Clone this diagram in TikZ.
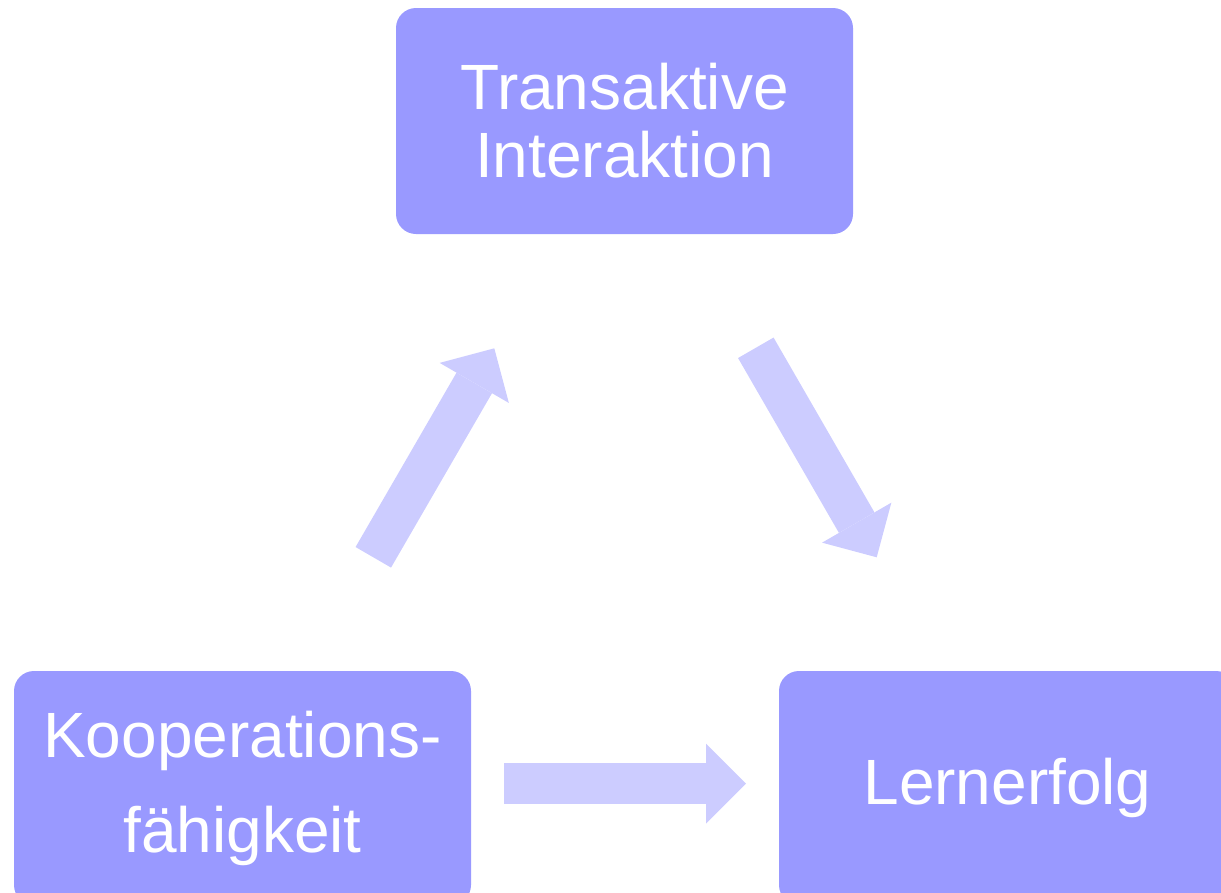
\documentclass[tikz,border=0pt]{standalone}
\usepackage{fontspec}
\setmainfont{Liberation Sans}
\usetikzlibrary{arrows.meta}
\definecolor{boxblue}{RGB}{153,153,255}
\definecolor{arrowblue}{RGB}{204,204,255}
\tikzset{
	stage/.style = 
    {
			rounded corners = 20pt,
			fill = boxblue,
			text = white,
			align = center,
			minimum width = 457pt,
			minimum height = 226pt,
			inner sep = 0pt
    },
	flow/.style = 
    {
			draw = arrowblue,
			line width = 41pt,
			-{Triangle[length=40pt, width=80pt, line width=0pt]}
    }
}
\begin{document}
\begin{tikzpicture}[x=1pt, y=-1pt]
    \useasboundingbox (0,0) rectangle (1221,892);
    \clip (0,0) rectangle (1221,892);
    % Nodes
    \node (interaktion) [stage, font=\fontsize{64}{68}\selectfont] at (624.5,121) {Transaktive\\Interaktion};
    \node (kooperation) [stage, minimum height=234pt, font=\fontsize{64}{95}\selectfont] at (242.5,788) {Kooperations-\\fähigkeit};
    \node (lernerfolg) [stage, minimum height=234pt, font=\fontsize{64}{68}\selectfont] at (1007.5,788) {Lernerfolg};

    % Arrow ends
    \coordinate (kiStart) at (373.3,557.3);
    \coordinate (kiEnd) at (494.3,348.3);
    \coordinate (ilStart) at (755.8,347.8);
    \coordinate (ilEnd) at (876.7,557.3);
    \coordinate (klStart) at (504,783.5);
    \coordinate (klEnd) at (746,783.5);

    % Arrows
    \draw [flow] (kiStart) -- (kiEnd);
    \draw [flow] (ilStart) -- (ilEnd);
    \draw [flow] (klStart) -- (klEnd);
\end{tikzpicture}
\end{document}
